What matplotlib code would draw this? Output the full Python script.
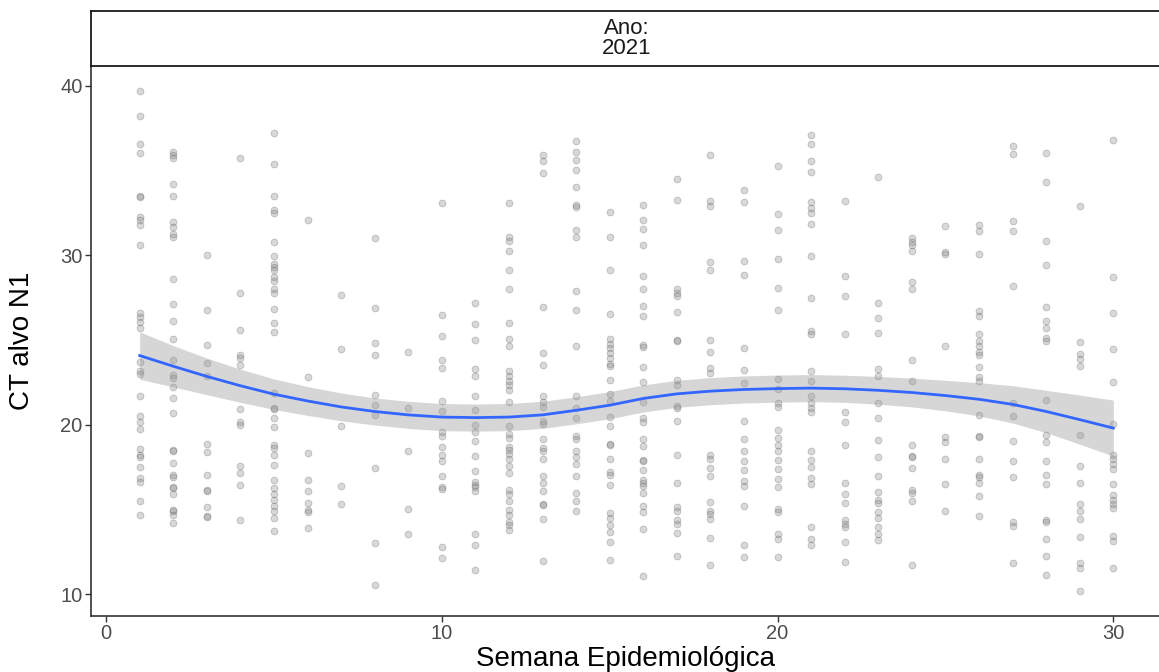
import pandas as pd
import matplotlib
matplotlib.use("Agg")
import matplotlib.pyplot as plt

# valores de CT (alvo N1) por semana epidemiológica, ano 2021
s01 = [39.69, 38.22, 36.56, 36.02, 33.50, 33.42, 32.24, 32.07, 31.76, 30.58, 26.58, 26.38, 26.07, 25.69,
       23.69, 23.17, 23.02, 21.72, 20.52, 20.17, 19.75, 18.57, 18.20, 18.10, 17.52, 16.85, 16.60, 15.51, 14.66]
s02 = [36.11, 35.90, 35.76, 34.18, 33.50, 31.97, 31.66, 31.28, 31.10, 28.59, 27.10, 26.13, 25.05, 23.79,
       22.96, 22.75, 22.24, 21.59, 20.68, 18.51, 18.47, 17.74, 17.06, 16.92, 16.34, 16.27, 15.92, 14.99,
       14.89, 14.68, 14.18]
s03 = [30.00, 26.75, 24.72, 23.62, 22.86, 18.86, 18.36, 17.02, 16.13, 16.07, 15.13, 14.62, 14.53]
s04 = [35.76, 27.76, 25.61, 24.10, 23.95, 23.54, 20.93, 20.17, 19.96, 17.58, 17.16, 16.42, 14.37]
s05 = [37.20, 35.40, 33.52, 32.65, 32.48, 30.77, 29.98, 29.48, 29.28, 29.11, 28.70, 28.51, 27.99, 27.78,
       26.85, 26.00, 25.49, 21.86, 20.99, 20.93, 20.41, 19.85, 18.82, 18.61, 18.24, 17.64, 16.75, 16.29,
       15.92, 15.57, 15.20, 14.89, 14.47, 13.75]
s06 = [32.07, 22.79, 18.34, 16.75, 16.09, 15.40, 14.99, 14.84, 13.93]
s07 = [27.68, 24.45, 19.94, 16.40, 15.34]
s08 = [31.04, 26.89, 24.82, 24.14, 21.78, 21.14, 20.58, 17.43, 13.00, 10.56]
s09 = [24.31, 20.99, 18.47, 15.05, 13.54]
s10 = [33.06, 26.48, 25.24, 23.79, 23.33, 21.41, 20.79, 19.54, 19.34, 18.67, 18.24, 17.85, 16.96, 16.34,
       16.23, 12.77, 12.13]
s11 = [27.18, 25.96, 24.99, 23.27, 22.90, 21.68, 20.89, 19.96, 19.54, 19.03, 18.16, 17.27, 16.60, 16.44,
       16.34, 16.09, 13.54, 12.88, 11.43]
s12 = [33.06, 31.10, 30.83, 30.25, 29.13, 28.01, 26.00, 25.03, 24.62, 23.17, 22.86, 22.55, 22.34, 22.03,
       21.35, 19.92, 19.48, 19.23, 18.67, 18.51, 18.30, 17.99, 17.58, 17.16, 16.13, 15.92, 15.51, 14.99,
       14.68, 14.26, 14.06, 13.81]
s13 = [35.90, 35.59, 34.87, 26.96, 24.24, 23.54, 21.72, 21.35, 21.06, 20.23, 20.02, 19.13, 18.61, 18.45,
       17.95, 16.96, 16.54, 16.09, 15.34, 15.26, 14.41, 11.93]
s14 = [36.73, 36.07, 35.65, 35.01, 34.04, 32.96, 32.84, 31.51, 31.10, 27.89, 26.75, 24.66, 21.68, 20.99,
       20.37, 19.34, 19.13, 18.45, 18.10, 17.68, 16.96, 15.98, 15.51, 14.89]
s15 = [32.53, 31.10, 29.13, 26.54, 25.03, 24.78, 24.51, 24.24, 23.95, 23.58, 23.48, 22.61, 21.82, 21.41,
       20.48, 19.90, 18.88, 18.78, 17.95, 17.20, 17.06, 16.44, 14.78, 14.47, 14.06, 13.64, 13.08, 11.99]
s16 = [32.94, 32.07, 31.55, 30.58, 28.76, 28.01, 27.00, 26.42, 24.72, 24.58, 23.42, 22.51, 21.35, 20.37,
       20.17, 19.17, 18.76, 17.89, 17.83, 17.33, 16.75, 16.58, 16.40, 15.96, 15.20, 14.84, 13.85, 11.10]
s17 = [34.53, 33.25, 28.03, 27.76, 27.58, 26.63, 24.99, 24.93, 22.65, 22.34, 21.10, 20.99, 20.23, 18.20,
       16.58, 15.13, 14.89, 14.37, 14.16, 13.58, 12.24]
s18 = [35.90, 33.21, 32.90, 29.59, 29.11, 24.97, 24.31, 23.33, 23.06, 18.24, 17.99, 17.47, 16.96, 15.44,
       14.89, 14.72, 14.43, 13.29, 11.74]
s19 = [33.83, 33.17, 29.69, 28.84, 24.51, 23.23, 22.44, 20.21, 19.17, 18.45, 17.83, 17.33, 16.65, 16.40,
       15.20, 12.88, 12.19]
s20 = [35.26, 32.44, 31.49, 29.75, 28.05, 26.77, 22.71, 22.09, 21.26, 21.06, 19.69, 19.23, 18.82, 18.47,
       17.93, 17.37, 16.79, 16.34, 15.05, 14.84, 13.54, 13.23, 12.19]
s21 = [37.08, 36.58, 35.55, 34.91, 33.17, 32.79, 32.48, 31.82, 29.96, 27.47, 25.51, 25.34, 23.17, 22.55,
       21.72, 21.26, 20.99, 20.75, 18.47, 17.89, 17.52, 16.85, 16.48, 13.95, 13.23, 12.92]
s22 = [33.23, 28.80, 27.60, 25.34, 20.73, 20.14, 18.82, 16.58, 15.92, 15.40, 14.37, 14.16, 13.95, 13.06,
       11.88]
s23 = [34.62, 27.16, 26.31, 25.40, 23.27, 22.86, 21.26, 20.41, 19.07, 18.10, 17.00, 16.02, 15.57, 15.40,
       14.84, 14.47, 13.95, 13.54, 13.19]
s24 = [30.99, 30.77, 30.58, 30.27, 28.45, 28.01, 23.79, 22.59, 18.78, 18.16, 18.10, 17.43, 16.13, 15.96,
       15.51, 11.72]
s25 = [31.70, 30.17, 30.10, 24.62, 19.28, 18.98, 17.99, 16.50, 14.89]
s26 = [31.76, 31.45, 30.06, 26.73, 26.42, 25.34, 24.93, 24.62, 24.31, 24.10, 23.42, 22.79, 22.59, 20.58,
       19.34, 19.28, 17.99, 17.06, 16.92, 16.58, 15.78, 14.64]
s27 = [36.46, 35.96, 32.01, 31.41, 28.18, 21.26, 20.54, 19.03, 17.85, 16.90, 14.26, 14.02, 11.82]
s28 = [36.05, 34.33, 30.83, 29.42, 26.96, 26.13, 25.69, 25.13, 24.93, 21.45, 19.40, 18.98, 17.85, 17.06,
       16.48, 14.37, 14.26, 13.27, 12.26, 11.12]
s29 = [32.90, 24.89, 24.17, 23.89, 23.44, 19.38, 17.54, 16.54, 15.30, 14.89, 14.41, 13.40, 11.82, 11.57,
       10.19]
s30 = [36.83, 28.70, 26.58, 24.45, 22.51, 20.02, 18.20, 17.95, 17.68, 17.41, 16.50, 15.88, 15.55, 15.30,
       15.09, 13.44, 13.13, 11.57]

semanas = [s01, s02, s03, s04, s05, s06, s07, s08, s09, s10, s11, s12, s13, s14, s15,
           s16, s17, s18, s19, s20, s21, s22, s23, s24, s25, s26, s27, s28, s29, s30]

# curva suavizada (loess) e intervalo de confiança
sem_fit = list(range(1, 31))
ct_fit = [24.08, 23.45, 22.85, 22.30, 21.80, 21.40, 21.05, 20.78, 20.58, 20.45, 20.42, 20.45, 20.58, 20.85, 21.15,
          21.55, 21.82, 21.98, 22.08, 22.13, 22.16, 22.12, 22.03, 21.90, 21.72, 21.50, 21.20, 20.78, 20.30, 19.80]
ct_lo = [22.68, 22.23, 21.77, 21.32, 20.90, 20.55, 20.23, 19.98, 19.78, 19.65, 19.62, 19.65, 19.78, 20.05, 20.35,
         20.75, 21.02, 21.18, 21.28, 21.33, 21.36, 21.32, 21.21, 21.05, 20.82, 20.52, 20.10, 19.53, 18.85, 18.15]
ct_hi = [25.48, 24.67, 23.93, 23.28, 22.70, 22.25, 21.87, 21.58, 21.38, 21.25, 21.22, 21.25, 21.38, 21.65, 21.95,
         22.35, 22.62, 22.78, 22.88, 22.93, 22.96, 22.92, 22.85, 22.75, 22.62, 22.48, 22.30, 22.03, 21.75, 21.45]

df = pd.DataFrame({
    "semana": [i + 1 for i, v in enumerate(semanas) for _ in v],
    "ct": [c for v in semanas for c in v],
})

plt.rcParams["font.family"] = ["Liberation Sans", "DejaVu Sans"]

fig = plt.figure(figsize=(11.59, 6.72), dpi=100)
W, H = 1159, 672
ax = fig.add_axes([91 / W, 1 - 616 / H, (1162 - 91) / W, (616 - 66) / H])
strip = fig.add_axes([91 / W, 1 - 66 / H, (1162 - 91) / W, (66 - 11) / H])

# pontos
ax.scatter(df["semana"], df["ct"], s=24, facecolor=(0.5, 0.5, 0.5, 0.3),
           edgecolor=(0.3, 0.3, 0.3, 0.3), linewidth=0.6, zorder=2)

# loess + IC
ax.fill_between(sem_fit, ct_lo, ct_hi, color="#999999", alpha=0.4, linewidth=0, zorder=3)
ax.plot(sem_fit, ct_fit, color="#3366FF", linewidth=2.0, zorder=4)

ax.set_xlim(-0.45, 31.45)
ax.set_ylim(8.71, 41.17)
ax.set_xticks([0, 10, 20, 30])
ax.set_yticks([10, 20, 30, 40])

for s in ["top", "right"]:
    ax.spines[s].set_visible(False)
for s in ["left", "bottom"]:
    ax.spines[s].set_color("#333333")
    ax.spines[s].set_linewidth(1.2)

ax.tick_params(axis="both", length=4, width=1.0, color="#333333",
               labelsize=14.5, labelcolor="#4D4D4D", pad=2.0)

ax.set_xlabel("Semana Epidemiológica", fontsize=20, color="black")
ax.set_ylabel("CT alvo N1", fontsize=20, color="black")
ax.xaxis.set_label_coords((625 - 91) / (1162 - 91), -(659 - 616) / 550)
ax.yaxis.set_label_coords(-(91 - 22) / (1162 - 91), 0.5)
ax.xaxis.label.set_va("center")
ax.yaxis.label.set_va("center")

# faixa do facet
strip.set_xticks([])
strip.set_yticks([])
strip.set_facecolor("white")
for s in strip.spines.values():
    s.set_color("#1a1a1a")
    s.set_linewidth(1.3)
strip.text(0.5, 0.5, "Ano:\n2021", ha="center", va="center", fontsize=16,
           color="#1a1a1a", linespacing=1.0, transform=strip.transAxes)

fig.savefig("out.png", dpi=100)
